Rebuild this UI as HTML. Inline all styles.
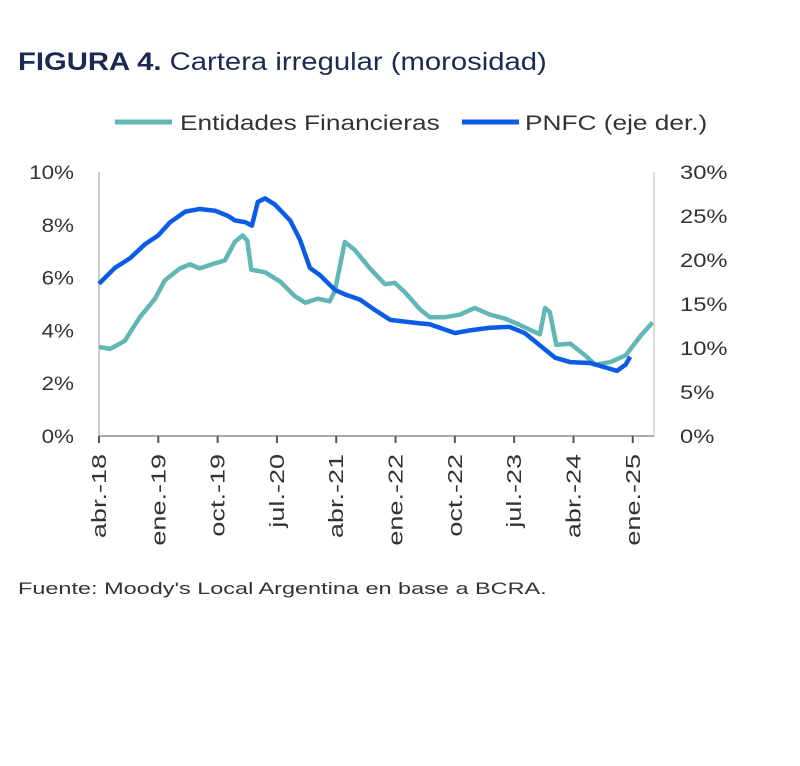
<!DOCTYPE html>
<html><head><meta charset="utf-8"><style>
body{margin:0;background:#fff;width:800px;height:766px;overflow:hidden;font-family:"Liberation Sans",sans-serif}
</style></head><body>
<svg width="800" height="766" style="position:absolute;left:0;top:0">
<text class="st" data-k="1.17" x="18" y="70" font-size="25" fill="#1b2a52"><tspan font-weight="bold">FIGURA 4.</tspan> Cartera irregular (morosidad)</text>
<g>
<line x1="115" y1="122" x2="172" y2="122" stroke="#62b7b6" stroke-width="5"/>
<text class="st" data-k="1.25" x="180" y="130" font-size="21" fill="#333">Entidades Financieras</text>
<line x1="462" y1="122" x2="519" y2="122" stroke="#0a5ce6" stroke-width="5"/>
<text class="st" data-k="1.25" x="525" y="130" font-size="21" fill="#333">PNFC (eje der.)</text>
</g>
<g id="plot"></g>
<text class="st" data-k="1.38" x="18" y="594" font-size="17" fill="#333">Fuente: Moody's Local Argentina en base a BCRA.</text>
</svg>
<script>
const xTickLabels=["abr.-18","ene.-19","oct.-19","jul.-20","abr.-21","ene.-22","oct.-22","jul.-23","abr.-24","ene.-25"];
const leftTicks=[0,2,4,6,8,10];
const rightTicks=[0,5,10,15,20,25,30];
const entMonths=[0,1.7,3.9,6.2,8.5,10,12.3,13.8,15.3,17.1,19.1,20.6,21.8,22.5,23.1,25.2,27.5,29.7,31.3,33.2,35,35.8,37.3,38.8,41.1,43.4,44.9,46.4,48.7,50.2,52.5,54.8,57,59.3,61.6,63.9,66.9,67.7,68.4,69.4,71.5,73.8,75.3,77.6,79.9,82.2,84];
const entValues=[3.37,3.3,3.6,4.5,5.2,5.9,6.35,6.5,6.35,6.5,6.65,7.35,7.6,7.4,6.3,6.2,5.85,5.3,5.05,5.2,5.1,5.5,7.35,7.05,6.35,5.75,5.8,5.45,4.8,4.5,4.5,4.6,4.85,4.6,4.45,4.2,3.85,4.85,4.7,3.45,3.5,3.05,2.7,2.8,3.05,3.8,4.3];
const pnfcMonths=[0,2.4,4.7,7,9,10.8,13.1,15.3,17.6,19.6,20.6,22.2,23.2,24.1,25.2,26.7,29,30.5,32,33.5,35.8,37.3,39.6,41.9,44.2,46.4,48.7,50.2,51.7,54,56.3,59.3,62.3,64.6,66.9,69.2,71.5,74.5,76.8,78.6,79.9,80.6];
const pnfcValues=[17.3,19.1,20.2,21.8,22.8,24.3,25.5,25.8,25.6,25.0,24.5,24.3,23.9,26.6,27.0,26.3,24.5,22.3,19.1,18.3,16.6,16.1,15.5,14.3,13.2,13.0,12.8,12.7,12.3,11.7,12.0,12.3,12.4,11.7,10.3,8.9,8.4,8.3,7.8,7.4,8.1,9.0];
const X0=99,X1=654,YB=436,YT=172,PPM=6.59;
const xS=m=>X0+m*PPM;
const yL=v=>YB-(v/10)*(YB-YT);
const yR=v=>YB-(v/30)*(YB-YT);
const NS="http://www.w3.org/2000/svg";
const g=document.getElementById('plot');
function mk(t,a){const e=document.createElementNS(NS,t);for(const k in a)e.setAttribute(k,a[k]);g.appendChild(e);return e;}
let e=mk('line',{x1:X0,y1:YT,x2:X0,y2:YB,stroke:'#ccc','stroke-width':2});


e=mk('line',{x1:X1,y1:YT,x2:X1,y2:YB,stroke:'#ddd','stroke-width':2});


e=mk('line',{x1:X0,y1:YB,x2:X1,y2:YB,stroke:'#aaa','stroke-width':2});


leftTicks.forEach(v=>{const t=mk('text',{x:74,y:yL(v)+7,'font-size':19,'text-anchor':'end',fill:'#333',class:'st','data-k':'1.18'});t.textContent=v+'%';

});
rightTicks.forEach(v=>{const t=mk('text',{x:680,y:yR(v)+7,'font-size':19,fill:'#333',class:'st','data-k':'1.25'});t.textContent=v+'%';

});
xTickLabels.forEach((l,i)=>{const x=xS(i*9);
const tk=mk('line',{x1:x,y1:YB,x2:x,y2:YB+7,stroke:'#555','stroke-width':2});


const t=mk('text',{x:0,y:0,'font-size':20,'text-anchor':'end',fill:'#333',class:'st','data-k':'1.35',transform:`translate(${x+7},454) rotate(-90)`});t.textContent=l;

});
const p1=mk('polyline',{points:entMonths.map((m,i)=>xS(m)+','+yL(entValues[i])).join(' '),fill:'none',stroke:'#62b7b6','stroke-width':4.5,'stroke-linejoin':'round'});


const p2=mk('polyline',{points:pnfcMonths.map((m,i)=>xS(m)+','+yR(pnfcValues[i])).join(' '),fill:'none',stroke:'#0a5ce6','stroke-width':4.5,'stroke-linejoin':'round'});


document.querySelectorAll('text.st').forEach(t=>{const k=parseFloat(t.getAttribute('data-k'));const w=t.getComputedTextLength();t.setAttribute('textLength',(w*k).toFixed(1));t.setAttribute('lengthAdjust','spacingAndGlyphs');});
</script>
</body></html>
